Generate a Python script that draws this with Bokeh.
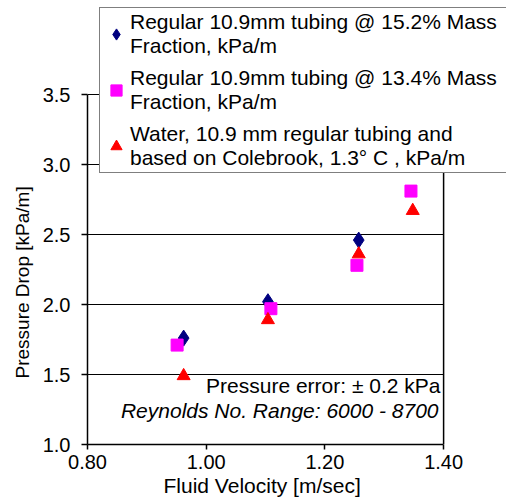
import math
from bokeh.plotting import figure
from bokeh.models import Legend, LegendItem, Label, Title, FixedTicker, PrintfTickFormatter, Range1d
from bokeh.embed import file_html
from bokeh.resources import INLINE

# Data
x_152 = [0.962, 1.104, 1.257]
y_152 = [1.76, 2.02, 2.46]
x_134 = [0.951, 1.109, 1.254, 1.345]
y_134 = [1.71, 1.97, 2.28, 2.81]
x_water = [0.962, 1.104, 1.257, 1.348]
y_water = [1.49, 1.89, 2.36, 2.67]

x_ticks = [0.8, 1.0, 1.2, 1.4]
y_ticks = [1.0, 1.5, 2.0, 2.5, 3.0, 3.5]

labels = [
    "Regular 10.9mm tubing @ 15.2% Mass\nFraction, kPa/m",
    "Regular 10.9mm tubing @ 13.4% Mass\nFraction, kPa/m",
    "Water, 10.9 mm regular tubing and\nbased on Colebrook, 1.3\u00b0 C , kPa/m",
]
x_title = "Fluid Velocity [m/sec]"
y_title = "Pressure Drop [kPa/m]"
note1 = "Pressure error: \u00b1 0.2 kPa"
note2 = "Reynolds No. Range: 6000 - 8700"

FONT = "Liberation Sans"

# layout: plot area from x_ticks[0]..x_ticks[-1], y_ticks[0]..y_ticks[-1]
# the frame is extended up and right so the legend can overlap beyond the axes
PX_PER_X = 593.5   # pixels per unit velocity
PX_PER_Y = 140.0   # pixels per unit pressure
FRAME_W = 419
FRAME_H = 444
x_end = x_ticks[0] + FRAME_W / PX_PER_X
y_end = y_ticks[0] + FRAME_H / PX_PER_Y

p = figure(frame_width=FRAME_W, frame_height=FRAME_H, output_backend="svg", toolbar_location=None,
           x_range=Range1d(x_ticks[0], x_end), y_range=Range1d(y_ticks[0], y_end),
           min_border_left=87, min_border_right=0, min_border_top=0, min_border_bottom=60)
p.background_fill_color = "white"
p.border_fill_color = "white"
p.outline_line_color = None
p.xgrid.grid_line_color = None
p.ygrid.grid_line_color = None

# horizontal grid lines and right border of the plot area
grid_y = y_ticks[1:]
p.segment(x0=[x_ticks[0]] * len(grid_y), x1=[x_ticks[-1]] * len(grid_y), y0=grid_y, y1=grid_y,
          line_color="black", line_width=1)
p.segment(x0=[x_ticks[-1]], x1=[x_ticks[-1]], y0=[y_ticks[0]], y1=[y_ticks[-1]],
          line_color="black", line_width=1.5)

r1 = p.scatter(x_152, y_152, marker="diamond", size=16, fill_color="#000080", line_color="#000080")
r2 = p.scatter(x_134, y_134, marker="square", size=12, fill_color="#FF00FF", line_color="#FF00FF")
r3 = p.scatter(x_water, y_water, marker="triangle", size=13, fill_color="#FF0000", line_color="#FF0000")

# axes
p.xaxis.ticker = FixedTicker(ticks=x_ticks)
p.yaxis.ticker = FixedTicker(ticks=y_ticks)
p.xaxis.formatter = PrintfTickFormatter(format="%.2f")
p.yaxis.formatter = PrintfTickFormatter(format="%.1f")
p.xaxis.bounds = (x_ticks[0], x_ticks[-1])
p.yaxis.bounds = (y_ticks[0], y_ticks[-1])
for ax in (p.xaxis[0], p.yaxis[0]):
    ax.axis_line_color = "black"
    ax.axis_line_width = 1.5
    ax.major_tick_line_color = "black"
    ax.major_tick_line_width = 1.5
    ax.minor_tick_line_color = None
    ax.major_tick_in = 0
    ax.major_label_text_font = FONT
    ax.major_label_text_font_size = "20px"
    ax.major_label_text_color = "black"
p.xaxis.major_tick_out = 5
p.yaxis.major_tick_out = 6
p.xaxis.major_label_standoff = 5
p.yaxis.major_label_standoff = 11

# axis titles, placed to be centred on the bounded plot area
p.add_layout(Title(text=x_title, align="left", offset=76, standoff=1,
                   text_font=FONT, text_font_size="21px", text_font_style="normal",
                   text_color="black"), "below")
p.add_layout(Title(text=y_title, align="left", offset=66, standoff=14,
                   text_font=FONT, text_font_size="19px", text_font_style="normal",
                   text_color="black"), "left")

# annotations
p.add_layout(Label(x=353, y=59, x_units="screen", y_units="screen", text=note1,
                   text_align="right", text_baseline="middle", text_font=FONT,
                   text_font_size="21px", text_color="black"))
p.add_layout(Label(x=351, y=34, x_units="screen", y_units="screen", text=note2,
                   text_align="right", text_baseline="middle", text_font=FONT,
                   text_font_size="21px", text_font_style="italic", text_color="black"))

legend = Legend(items=[LegendItem(label=labels[0], renderers=[r1]),
                       LegendItem(label=labels[1], renderers=[r2]),
                       LegendItem(label=labels[2], renderers=[r3])],
                location=(12, 271))
legend.label_text_font = FONT
legend.label_text_font_size = "21px"
legend.label_text_color = "black"
legend.label_width = 420
legend.glyph_width = 28
legend.glyph_height = 30
legend.label_standoff = 0
legend.padding = 2
legend.spacing = 8
legend.border_line_color = "black"
legend.border_line_width = 1.5
legend.background_fill_color = "white"
legend.background_fill_alpha = 1.0
legend.margin = 0
p.add_layout(legend, "center")

open("out.html", "w").write(file_html(p, INLINE))
